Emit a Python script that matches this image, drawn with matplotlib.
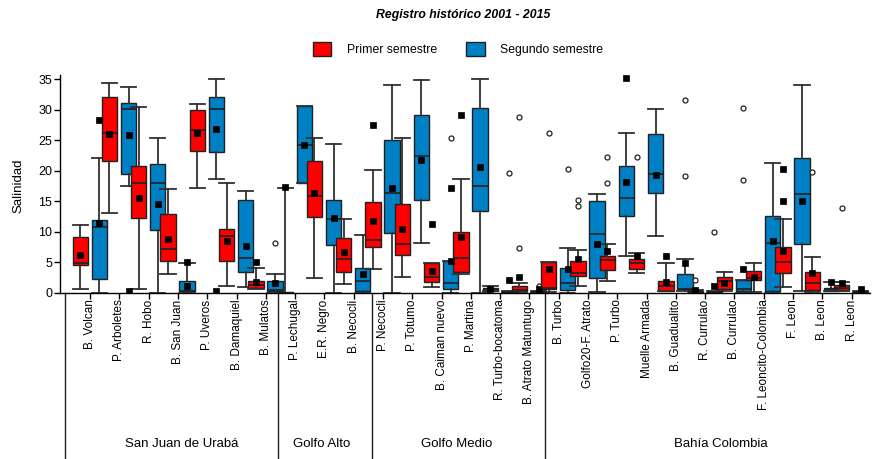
import matplotlib
matplotlib.use("Agg")
import matplotlib.pyplot as plt
import matplotlib.transforms as mtransforms
from matplotlib.patches import Patch
import numpy as np

plt.rcParams['font.family'] = ['Liberation Sans', 'DejaVu Sans']

categories = ["B. Volcan", "P. Arboletes", "R. Hobo", "B. San Juan", "P. Uveros",
              "B. Damaquiel", "B. Mulatos", "P. Lechugal", "E.R. Negro", "B. Necocli",
              "P. Necocli", "P. Totumo", "B. Caiman nuevo", "P. Martina",
              "R. Turbo-bocatoma", "B. Atrato Matuntugo", "B. Turbo", "Golfo20-F. Atrato",
              "P. Turbo", "Muelle Armada", "B. Guadualito", "R. Currulao", "B. Currulao",
              "F. Leoncito-Colombia", "F. Leon", "B. Leon", "R. Leon"]
groups = ["San Juan de Urabá", "Golfo Alto", "Golfo Medio", "Bahía Colombia"]
group_sizes = [7, 3, 6, 11]

# Primer semestre (red)
red_whislo = [0.5, 13.0, 0.5, 3.0, 17.2, 1.1, 0.5, 0.0, 2.3, 1.4, 3.8, 2.6, 0.9, 3.1,
              0.3, 0.1, 0.1, 1.1, 1.9, 3.2, 0.2, 0.0, 0.3, 0.1, 0.9, 0.1, 0.2]
red_q1 = [4.5, 21.6, 12.3, 5.2, 23.2, 5.2, 0.7, 0.0, 12.4, 3.3, 7.4, 6.2, 1.8, 3.3,
          0.3, 0.3, 0.5, 2.7, 3.7, 3.8, 0.3, 0.1, 0.5, 2.0, 3.2, 0.4, 0.4]
red_med = [4.9, 26.1, 18.0, 7.2, 26.6, 9.2, 1.3, 0.0, 15.9, 5.5, 8.6, 8.0, 2.5, 5.7,
           0.5, 0.4, 0.8, 3.2, 5.3, 4.9, 1.0, 0.2, 1.9, 2.4, 5.0, 1.5, 0.8]
red_q3 = [9.1, 32.1, 20.7, 12.8, 29.9, 10.4, 1.9, 0.1, 21.6, 9.0, 14.9, 14.6, 4.8, 10.0,
          0.8, 1.1, 5.0, 5.2, 6.0, 5.5, 1.9, 0.3, 2.6, 3.6, 7.5, 3.3, 1.3]
red_whishi = [11.1, 34.4, 30.4, 17.0, 31.0, 18.0, 4.0, 17.2, 25.4, 12.0, 20.1, 25.4, 4.9, 18.7,
              1.0, 1.5, 5.0, 7.0, 8.0, 6.4, 4.8, 0.4, 3.4, 4.8, 12.0, 5.8, 1.8]
red_mean = [6.2, 26.0, 15.5, 8.7, 26.2, 8.5, 1.7, 17.3, 16.4, 6.7, 11.7, 10.4, 3.6, 9.1,
            0.5, 2.6, 3.9, 5.5, 6.8, 6.0, 1.8, 0.4, 1.6, 2.6, 6.8, 3.2, 1.6]
red_extremes = [[], [], [], [], [], [], [5.0], [], [], [], [27.5], [], [11.2], [29.2],
                [], [], [], [], [], [], [6.0], [], [], [], [20.2, 15.0], [], []]
red_outliers = [[], [], [], [], [], [], [], [], [], [], [], [], [], [],
                [], [28.8, 7.3], [26.2], [15.1, 14.2], [22.2, 18.0], [22.2], [], [2.1], [], [], [], [19.7], [13.8]]

# Segundo semestre (blue)
blue_whislo = [0.0, 17.4, 0.0, 0.0, 18.6, 0.9, 0.0, 17.9, 0.0, 0.0, 0.0, 8.2, 0.0, 0.0,
               0.0, 0.0, 0.0, 0.1, 6.0, 9.2, 0.2, 0.0, 0.0, 0.0, 0.3, 0.2, 0.0]
blue_q1 = [2.2, 19.4, 10.2, 0.3, 23.1, 3.3, 0.2, 18.0, 7.8, 0.3, 9.7, 15.2, 0.5, 13.3,
           0.0, 0.0, 0.4, 2.3, 12.5, 16.4, 0.5, 0.0, 0.2, 0.3, 7.9, 0.3, 0.0]
blue_med = [10.8, 30.1, 18.0, 0.3, 30.1, 5.7, 0.4, 24.2, 12.0, 1.9, 16.4, 22.4, 1.6, 17.4,
            0.1, 0.1, 1.6, 9.6, 15.5, 19.5, 0.5, 0.1, 0.5, 8.2, 16.1, 0.5, 0.1]
blue_q3 = [11.9, 31.1, 21.1, 1.9, 32.1, 15.2, 1.9, 30.6, 15.2, 4.1, 25.1, 29.2, 5.2, 30.2,
           0.3, 0.2, 4.1, 15.0, 20.8, 26.0, 3.1, 0.2, 2.0, 12.5, 22.1, 0.7, 0.2]
blue_whishi = [22.0, 33.7, 25.4, 4.9, 35.1, 16.7, 3.0, 30.6, 24.3, 9.4, 34.0, 34.8, 5.2, 35.1,
               0.3, 0.3, 7.3, 16.1, 26.1, 30.1, 5.5, 0.2, 2.0, 21.3, 34.0, 1.8, 0.3]
blue_mean = [11.4, 25.8, 14.6, 1.1, 26.8, 7.6, 1.5, 24.2, 12.2, 3.0, 17.1, 21.7, 5.2, 20.6,
             2.0, 0.5, 3.8, 8.0, 18.1, 19.3, 4.9, 1.0, 3.9, 8.4, 15.0, 1.8, 0.5]
blue_extremes = [[28.3], [0.3], [], [5.0], [0.3], [], [], [], [], [], [], [], [17.2], [],
                 [], [], [], [], [35.2], [], [], [], [], [], [], [], []]
blue_outliers = [[], [], [], [], [], [], [8.2], [], [], [], [], [], [25.3], [],
                 [19.6], [1.0], [20.3], [], [], [], [31.6, 19.1], [9.9], [30.3, 18.4], [], [], [], []]

red_color = "#FF0000"
blue_color = "#0080C4"
line_color = "#303030"

W, H = 873, 459
fig = plt.figure(figsize=(W / 100, H / 100), dpi=100)
ax_left, ax_right, ax_top, ax_bot = 60, 870, 75.5, 292.5
ax = fig.add_axes([ax_left / W, 1 - ax_bot / H, (ax_right - ax_left) / W, (ax_bot - ax_top) / H])

x = np.arange(len(categories))
off_red, off_blue, bw = -0.34, 0.31, 0.52
msize = 5.0


def make_stats(lo, q1, med, q3, hi, mean, outl):
    return [dict(whislo=a, q1=b, med=c, q3=d, whishi=e, mean=f, fliers=np.array(g))
            for a, b, c, d, e, f, g in zip(lo, q1, med, q3, hi, mean, outl)]


common = dict(widths=bw, capwidths=bw * 1.0, patch_artist=True, showmeans=True,
              manage_ticks=False,
              meanprops=dict(marker='s', markerfacecolor='black', markeredgecolor='black',
                             markersize=msize, markeredgewidth=0.5),
              flierprops=dict(marker='o', markerfacecolor='white', markeredgecolor='#222222',
                              markersize=3.6, markeredgewidth=0.9),
              whiskerprops=dict(color=line_color, linewidth=1.3),
              capprops=dict(color=line_color, linewidth=1.3),
              medianprops=dict(color='#202020', linewidth=1.2))

red_stats = make_stats(red_whislo, red_q1, red_med, red_q3, red_whishi, red_mean, red_outliers)
blue_stats = make_stats(blue_whislo, blue_q1, blue_med, blue_q3, blue_whishi, blue_mean, blue_outliers)

for i in range(len(categories)):
    ax.bxp([red_stats[i]], positions=[x[i] + off_red],
           boxprops=dict(facecolor=red_color, edgecolor='#202020', linewidth=1.0), **common)
    ax.bxp([blue_stats[i]], positions=[x[i] + off_blue],
           boxprops=dict(facecolor=blue_color, edgecolor='#202020', linewidth=1.0), **common)

for i in range(len(categories)):
    for v in red_extremes[i]:
        ax.plot(x[i] + off_red, v, 's', color='black', markersize=msize,
                markeredgewidth=0.5, zorder=4)
    for v in blue_extremes[i]:
        ax.plot(x[i] + off_blue, v, 's', color='black', markersize=msize,
                markeredgewidth=0.5, zorder=4)

ax.set_xlim(-1.03, 26.63)
ax.set_ylim(0, 35.6)
ax.set_yticks(np.arange(0, 36, 5))
ax.set_xticks(x)
ax.set_xticklabels(categories, rotation=90, fontsize=8.5)
ax.tick_params(axis='y', labelsize=9, length=4, width=1, pad=1.5)
ax.tick_params(axis='x', length=4, width=1, pad=1)
for s in ['top', 'right']:
    ax.spines[s].set_visible(False)
for s in ['left', 'bottom']:
    ax.spines[s].set_linewidth(1.0)
ax.set_ylabel("Salinidad", fontsize=9.5)
ax.yaxis.set_label_coords(-0.044, 0.49)

# group separators and labels below the axis
trans = mtransforms.blended_transform_factory(ax.transData, ax.transAxes)
fig_bottom_axes = -(H - ax_bot) / (ax_bot - ax_top)
separators = [-0.85, 6.42, 9.63, 15.54]
for s in separators:
    ax.plot([s, s], [0, fig_bottom_axes], transform=trans, color='#202020',
            linewidth=1.0, clip_on=False)
group_label_x = [3.14, 7.89, 12.53, 21.53]
label_y = -(444 - ax_bot) / (ax_bot - ax_top)
for g, gx in zip(groups, group_label_x):
    ax.text(gx, label_y, g, transform=trans, ha='center', va='center', fontsize=9.5)

fig.text(463 / W, 1 - 15 / H, "Registro histórico 2001 - 2015", ha='center', va='center',
         fontsize=8.8, fontweight='bold', fontstyle='italic')

handles = [Patch(facecolor=red_color, edgecolor='#202020', label="Primer semestre"),
           Patch(facecolor=blue_color, edgecolor='#202020', label="Segundo semestre")]
fig.legend(handles=handles, loc='center', bbox_to_anchor=(458 / W, 1 - 49 / H), ncol=2,
           frameon=False, fontsize=8.8, handlelength=1.5, handleheight=1.5,
           handletextpad=1.3, columnspacing=2.4)

fig.savefig("out.png", dpi=100)
